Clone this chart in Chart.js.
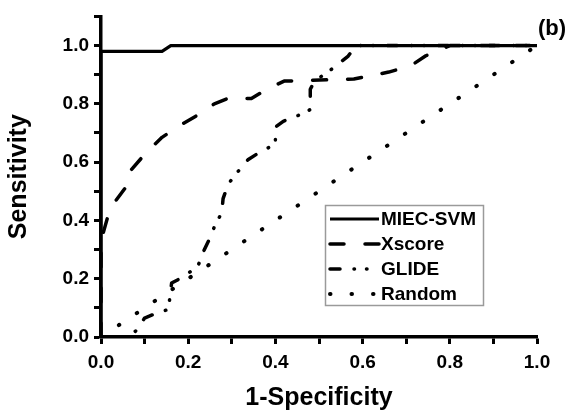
<!DOCTYPE html>
<html><head><meta charset="utf-8">
<script src="https://cdn.jsdelivr.net/npm/chart.js@4/dist/chart.umd.min.js"></script>
<style>html,body{margin:0;padding:0;background:#fff}</style>
</head><body>
<canvas id="c" width="568" height="411"></canvas>
<script>
// ---- data ----
const seriesNames = ['MIEC-SVM', 'Xscore', 'GLIDE', 'Random'];

const miecX = [0, 0, 0.14, 0.16, 1.0];
const miecY = [0, 0.98, 0.98, 1.0, 1.0];

const xscoreX = [0, 0, 0.015, 0.03, 0.06, 0.07, 0.105, 0.14, 0.18, 0.22, 0.26, 0.29, 0.345, 0.38, 0.42, 0.58, 0.66, 0.71, 0.745, 0.8, 1.0];
const xscoreY = [0, 0.33, 0.41, 0.46, 0.52, 0.575, 0.635, 0.685, 0.725, 0.76, 0.80, 0.818, 0.818, 0.85, 0.878, 0.885, 0.909, 0.93, 0.965, 1.0, 1.0];

const glideX = [0, 0.065, 0.084, 0.1, 0.128, 0.155, 0.158, 0.162, 0.193, 0.223, 0.234, 0.25, 0.26, 0.277, 0.28, 0.292, 0.31, 0.337, 0.37, 0.4, 0.4, 0.418, 0.452, 0.48, 0.48, 0.49, 0.53, 0.567, 0.58, 0.59, 1.0];
const glideY = [0, 0, 0.027, 0.065, 0.082, 0.095, 0.138, 0.185, 0.21, 0.246, 0.29, 0.34, 0.378, 0.427, 0.475, 0.525, 0.56, 0.608, 0.64, 0.66, 0.72, 0.74, 0.76, 0.78, 0.85, 0.878, 0.92, 0.964, 0.99, 1.0, 1.0];

const randomX = [0, 1.0];
const randomY = [0, 1.0];

const xTickLabels = ['0.0', '0.2', '0.4', '0.6', '0.8', '1.0'];
const yTickLabels = ['0.0', '0.2', '0.4', '0.6', '0.8', '1.0'];
const xTitle = '1-Specificity';
const yTitle = 'Sensitivity';
const panelLabel = '(b)';

// ---- build ----
const pts = (xs, ys) => xs.map((x, i) => ({x: x, y: ys[i]}));
const FAM = '"Liberation Sans", Arial, Helvetica, sans-serif';

const styles = [
  {borderWidth: 3.2, borderDash: [], borderCapStyle: 'butt'},
  {borderWidth: 3.5, borderDash: [14, 21], borderCapStyle: 'round'},
  {borderWidth: 3.5, borderDash: [10, 14, 0.5, 12, 0.5, 14], borderCapStyle: 'round'},
  {borderWidth: 4, borderDash: [0.5, 21], borderCapStyle: 'round'}
];
const seriesData = [pts(miecX, miecY), pts(xscoreX, xscoreY), pts(glideX, glideY), pts(randomX, randomY)];

const datasets = seriesNames.map((n, i) => Object.assign({
  label: n, data: seriesData[i], showLine: true, fill: false,
  borderColor: '#000', backgroundColor: '#000', pointRadius: 0, tension: 0,
  borderJoinStyle: 'round'
}, styles[i]));

const boxLegend = {
  id: 'boxLegend',
  afterDraw(chart) {
    const ctx = chart.ctx;
    ctx.save();
    ctx.fillStyle = '#fff';
    ctx.fillRect(325, 205, 159, 101);
    ctx.strokeStyle = '#9a9a9a';
    ctx.lineWidth = 1.5;
    ctx.setLineDash([]);
    ctx.strokeRect(325.5, 205.5, 158, 100);
    chart.data.datasets.forEach((ds, i) => {
      const y = 219 + i * 25;
      ctx.strokeStyle = ds.borderColor;
      ctx.lineWidth = ds.borderWidth;
      ctx.lineCap = ds.borderCapStyle;
      ctx.setLineDash(ds.borderDash);
      ctx.beginPath();
      ctx.moveTo(330, y);
      ctx.lineTo(379, y);
      ctx.stroke();
      ctx.setLineDash([]);
      ctx.fillStyle = '#000';
      ctx.font = 'bold 19px ' + FAM;
      ctx.textBaseline = 'middle';
      ctx.textAlign = 'left';
      ctx.fillText(ds.label, 381, y + 1);
    });
    ctx.font = 'bold 22px ' + FAM;
    ctx.textBaseline = 'middle';
    ctx.fillText(panelLabel, 538, 29);
    ctx.restore();
  }
};

const tickFont = {family: FAM, size: 19, weight: 'bold'};
const titleFont = {family: FAM, size: 25, weight: 'bold', lineHeight: 1};

new Chart(document.getElementById('c'), {
  type: 'scatter',
  data: {datasets: datasets},
  options: {
    responsive: false, animation: false,
    layout: {padding: {left: 0, right: 31, top: 15, bottom: 0}},
    plugins: {legend: {display: false}, tooltip: {enabled: false}},
    scales: {
      x: {
        type: 'linear', min: 0, max: 1,
        afterFit(s) { s.height = 74; },
        border: {display: true, width: 3.5, color: '#000'},
        grid: {drawOnChartArea: false, drawTicks: true, tickLength: 7, tickWidth: 3, tickColor: '#000'},
        ticks: {
          stepSize: 0.1, autoSkip: false, maxRotation: 0, minRotation: 0, color: '#000', font: tickFont, padding: 7,
          callback: (v) => { const k = Math.round(v * 10); return k % 2 === 0 ? xTickLabels[k / 2] : ''; }
        },
        title: {display: true, text: xTitle, color: '#000', font: titleFont, padding: {top: 0, bottom: 0}}
      },
      y: {
        type: 'linear', min: 0, max: 1.1,
        afterFit(s) { s.width = 101; },
        border: {display: true, width: 3.5, color: '#000'},
        grid: {drawOnChartArea: false, drawTicks: true, tickLength: 7, tickWidth: 3, tickColor: '#000'},
        ticks: {
          stepSize: 0.1, autoSkip: false, color: '#000', font: tickFont, padding: 5,
          callback: (v) => { const k = Math.round(v * 10); return (k % 2 === 0 && k <= 10) ? yTickLabels[k / 2] : ''; }
        },
        title: {display: true, text: yTitle, color: '#000', font: titleFont, padding: {top: 7, bottom: 0}}
      }
    }
  },
  plugins: [boxLegend]
});
</script>
</body></html>
